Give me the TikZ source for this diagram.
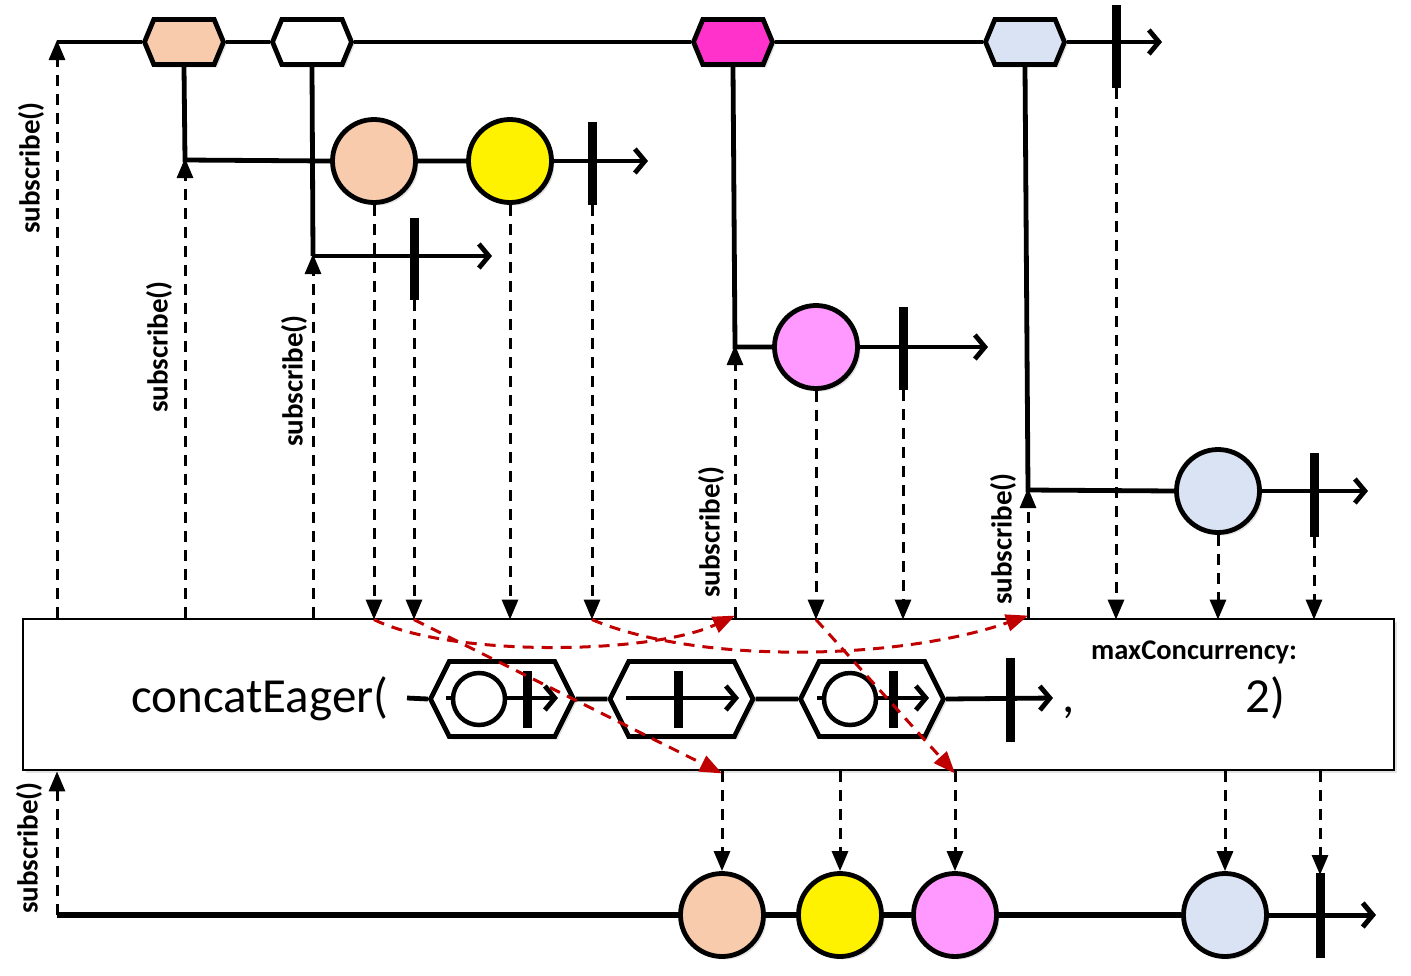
\documentclass[tikz,border=0pt]{standalone}
\usepackage{fontspec}
\setmainfont{Carlito}
\usetikzlibrary{arrows.meta,shapes.symbols,shadows}
\definecolor{peach}{HTML}{F8CBAD}
\definecolor{magc}{HTML}{FF33CC}
\definecolor{pinkc}{HTML}{FF99FF}
\definecolor{lblue}{HTML}{DAE3F3}
\definecolor{redd}{HTML}{C00000}
\begin{document}
\begin{tikzpicture}[x=1pt,y=-1pt,
  shd/.style={drop shadow={opacity=0.22,shadow xshift=3pt,shadow yshift=-3pt}},
  tl/.style={line width=4.8pt},
  flow/.style={line width=4.8pt,-{Straight Barb[length=10pt,width=24pt]}},
  marble/.style={circle,draw,line width=4.8pt,minimum size=83pt,inner sep=0pt,shd},
  hexn/.style={shape=signal,signal to=east and west,signal pointer angle=135,draw,line width=4.8pt,minimum width=79pt,minimum height=45pt,inner sep=0pt,shd},
  bhex/.style={shape=signal,signal to=east and west,signal pointer angle=127,draw,line width=4.8pt,minimum width=143pt,minimum height=75pt,inner sep=0pt,fill=white,shd},
  smallc/.style={circle,draw,line width=4.5pt,minimum size=52pt,inner sep=0pt,fill=white},
  bar/.style={line width=9pt},
  dsh/.style={line width=3pt,dash pattern=on 11pt off 8pt,-{Triangle[length=20pt,width=16pt]}},
  rdsh/.style={draw=redd,line width=3pt,dash pattern=on 11pt off 8pt,-{Triangle[length=22pt,width=17pt,fill=redd]}},
  sublbl/.style={rotate=90,inner sep=0pt,font=\fontsize{29}{32}\selectfont\bfseries},
]
\useasboundingbox (0,0) rectangle (1411,975);
\fill[white] (0,0) rectangle (1411,975);

% ---------- main box ----------
\node[draw,line width=2.8pt,fill=white,minimum width=1371pt,minimum height=151pt,inner sep=0pt,shd] (box) at (708.5,694.5) {};

% ---------- top source stream ----------
\coordinate (t0) at (57,42);
\coordinate (tend) at (1162,42);
\node[hexn,fill=peach] (h1) at (184,42) {};
\node[hexn,fill=white] (h2) at (312,42) {};
\node[hexn,fill=magc] (h3) at (733,42) {};
\node[hexn,fill=lblue] (h4) at (1025,42) {};
\draw[tl] (t0) -- (h1.west) (h1.east) -- (h2.west) (h2.east) -- (h3.west) (h3.east) -- (h4.west);
\draw[flow] (h4.east) -- (tend);
\coordinate (tb1) at (1116,5); \coordinate (tb2) at (1116,88);
\draw[bar] (tb1) -- (tb2);

% ---------- inner stream 1 ----------
\coordinate (s1) at (185,160);
\node[marble,fill=peach] (c1) at (374,161) {};
\node[marble,fill=yellow] (c2) at (510,161) {};
\coordinate (e1) at (648,161);
\coordinate (b1a) at (592,122); \coordinate (b1b) at (592,205);
\draw[tl] (h1.south) -- (s1) -- (c1.west) (c1.east) -- (c2.west);
\draw[flow] (c2.east) -- (e1);
\draw[bar] (b1a) -- (b1b);

% ---------- inner stream 2 ----------
\coordinate (s2) at (313,256);
\coordinate (e2) at (492,256);
\coordinate (b2a) at (414,218); \coordinate (b2b) at (414,300);
\draw[tl] (h2.south) -- (s2);
\draw[flow] (s2) -- (e2);
\draw[bar] (b2a) -- (b2b);

% ---------- inner stream 3 ----------
\coordinate (s3) at (735,347);
\node[marble,fill=pinkc] (c3) at (816,347) {};
\coordinate (e3) at (988,347);
\coordinate (b3a) at (903,307); \coordinate (b3b) at (903,390);
\draw[tl] (h3.south) -- (s3) -- (c3.west);
\draw[flow] (c3.east) -- (e3);
\draw[bar] (b3a) -- (b3b);

% ---------- inner stream 4 ----------
\coordinate (s4) at (1028,490);
\node[marble,fill=lblue] (c4) at (1218,491) {};
\coordinate (e4) at (1368,491);
\coordinate (b4a) at (1314,453); \coordinate (b4b) at (1314,537);
\draw[tl] (h4.south) -- (s4) -- (c4.west);
\draw[flow] (c4.east) -- (e4);
\draw[bar] (b4a) -- (b4b);

% ---------- subscribe arrows (up) ----------
\draw[dsh] (t0 |- box.north) -- ([yshift=2pt]t0);
\draw[dsh] (s1 |- box.north) -- ([yshift=2pt]s1);
\draw[dsh] (s2 |- box.north) -- ([yshift=2pt]s2);
\draw[dsh] (s3 |- box.north) -- ([yshift=2pt]s3);
\draw[dsh] (s4 |- box.north) -- ([yshift=2pt]s4);

\node[sublbl] (l1) at (31,168) {subscribe()};
\node[sublbl] (l2) at (159,347) {subscribe()};
\node[sublbl] (l3) at (294,381) {subscribe()};
\node[sublbl] (l4) at (711,532) {subscribe()};
\node[sublbl] (l5) at (1003,539) {subscribe()};
\node[sublbl] (l6) at (29,848) {subscribe()};

% ---------- values into the box ----------
\coordinate (in1) at ([yshift=-2pt]c1.south |- box.north);
\coordinate (in2) at ([yshift=-2pt]b2b |- box.north);
\coordinate (in3) at ([yshift=-2pt]c2.south |- box.north);
\coordinate (in4) at ([yshift=-2pt]b1b |- box.north);
\coordinate (in5) at ([yshift=-2pt]c3.south |- box.north);
\coordinate (in6) at ([yshift=-2pt]b3b |- box.north);
\coordinate (in7) at ([yshift=-2pt]tb2 |- box.north);
\coordinate (in8) at ([yshift=-2pt]c4.south |- box.north);
\coordinate (in9) at ([yshift=-2pt]b4b |- box.north);
\draw[dsh] (c1.south) -- (in1);
\draw[dsh] (b2b) -- (in2);
\draw[dsh] (c2.south) -- (in3);
\draw[dsh] (b1b) -- (in4);
\draw[dsh] (c3.south) -- (in5);
\draw[dsh] (b3b) -- (in6);
\draw[dsh] (tb2) -- (in7);
\draw[dsh] (c4.south) -- (in8);
\draw[dsh] (b4b) -- (in9);

% ---------- box content ----------
\node[anchor=base west,inner sep=0pt,font=\fontsize{49}{56}\selectfont] (ce) at (131,712) {concatEager(};
\coordinate (bl) at (407,698);
\node[bhex] (x1) at (502,699) {};
\node[bhex] (x2) at (681.5,699) {};
\node[bhex] (x3) at (872,699) {};
\coordinate (xe) at (1053,698);
\draw[tl] (bl) -- (x1.west) (x1.east) -- (x2.west) (x2.east) -- (x3.west);
\draw[flow] (x3.east) -- (xe);
\coordinate (xb1) at (1010,658); \coordinate (xb2) at (1010,742);
\draw[bar] (xb1) -- (xb2);
% inside hex 1
\coordinate (i1a) at (446,698); \coordinate (i1b) at (558,698);
\draw[flow] (i1a) -- (i1b);
\node[smallc] (ic1) at (479,699) {};
\coordinate (ib1a) at (527,671); \coordinate (ib1b) at (527,728);
\draw[bar] (ib1a) -- (ib1b);
% inside hex 2
\coordinate (i2a) at (626,698); \coordinate (i2b) at (739,698);
\draw[flow] (i2a) -- (i2b);
\coordinate (ib2a) at (678,671); \coordinate (ib2b) at (678,728);
\draw[bar] (ib2a) -- (ib2b);
% inside hex 3
\coordinate (i3a) at (817,698); \coordinate (i3b) at (929,698);
\draw[flow] (i3a) -- (i3b);
\node[smallc] (ic3) at (850,699) {};
\coordinate (ib3a) at (893,671); \coordinate (ib3b) at (893,728);
\draw[bar] (ib3a) -- (ib3b);

\node[anchor=base,inner sep=0pt,font=\fontsize{49}{56}\selectfont] (cm) at (1069,712) {,};
\node[anchor=base west,inner sep=0pt,font=\fontsize{28.5}{32}\selectfont\bfseries] (mc) at (1091,659) {maxConcurrency:};
\node[anchor=base west,inner sep=0pt,font=\fontsize{49}{56}\selectfont] (two) at (1245,712) {2)};

% ---------- output stream ----------
\coordinate (b0) at (57,915);
\node[marble,fill=peach] (o1) at (722,915) {};
\node[marble,fill=yellow] (o2) at (840,915) {};
\node[marble,fill=pinkc] (o3) at (955,915) {};
\node[marble,fill=lblue] (o4) at (1225,915) {};
\coordinate (oend) at (1376,915);
\coordinate (ob1) at (1320,873); \coordinate (ob2) at (1320,958);
\draw[line width=5.5pt] (b0) -- (o1.west) (o1.east) -- (o2.west) (o2.east) -- (o3.west) (o3.east) -- (o4.west);
\draw[flow,line width=5pt] (o4.east) -- (oend);
\draw[bar] (ob1) -- (ob2);

\draw[dsh] (b0) -- (b0 |- box.south);
\draw[dsh] (o1 |- box.south) -- (o1.north);
\draw[dsh] (o2 |- box.south) -- (o2.north);
\draw[dsh] (o3 |- box.south) -- (o3.north);
\draw[dsh] (o4 |- box.south) -- (o4.north);
\draw[dsh] (ob1 |- box.south) -- ([yshift=-2pt]ob1);

% ---------- red routing arrows ----------
\draw[rdsh] (in1) .. controls (450,657) and (650,655) .. ([yshift=2pt]s3 |- box.north);
\draw[rdsh] (in2) -- ([yshift=-2pt]o1 |- box.south);
\draw[rdsh] (in4) .. controls (700,665) and (900,660) .. ([yshift=2pt]s4 |- box.north);
\draw[rdsh] (in5) -- ([yshift=-2pt]o3 |- box.south);
\end{tikzpicture}
\end{document}
